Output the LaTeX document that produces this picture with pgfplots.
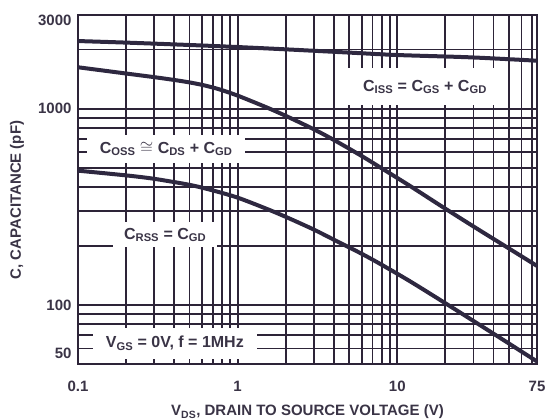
\documentclass[border=0pt]{standalone}
\usepackage{fontspec}
\setmainfont{Liberation Sans}
\usepackage{pgfplots}
\pgfplotsset{compat=1.18}
\definecolor{gridc}{HTML}{2D2438}
\definecolor{curvec}{HTML}{2E2840}
\definecolor{textc}{HTML}{3A3446}
\newcommand{\lblfont}{\fontsize{16bp}{19bp}\selectfont\bfseries}
\newcommand{\tkfont}{\fontsize{15bp}{18bp}\selectfont\bfseries}
\begin{document}
\begin{tikzpicture}
\begin{axis}[
  at={(0,0)}, anchor=south west,
  scale only axis, width=459bp, height=349bp,
  xmode=log, ymode=log,
  xmin=0.1, xmax=75, ymin=50, ymax=3000,
  xtick={0.1,1,10,75}, xticklabels={0.1,1,10,75},
  ytick={100,1000}, yticklabels={100,1000},
  minor xtick={0.2,0.3,0.4,0.5,0.6,0.7,0.8,0.9,2,3,4,5,6,7,8,9,20,30,40,50,60,70},
  minor ytick={60,70,80,90,200,300,400,500,600,700,800,900,2000},
  grid=both,
  major grid style={gridc, line width=1.8bp},
  minor grid style={gridc, line width=1.8bp},
  axis line style={gridc, line width=2bp},
  major tick length=0pt, minor tick length=0pt,
  /pgf/number format/assume math mode=true,
  tick label style={font=\tkfont, text=textc, inner sep=0pt},
  xticklabel style={anchor=north, yshift=-16.5bp},
  yticklabel style={anchor=east, xshift=-6.3bp},
  xlabel={V\textsubscript{DS}, DRAIN TO SOURCE VOLTAGE (V)},
  ylabel={C, CAPACITANCE (pF)},
  every axis x label/.style={at={(rel axis cs:0.5,-0.1482)}, anchor=base, font=\tkfont, text=textc},
  every axis y label/.style={at={(rel axis cs:-0.1242,0.47)}, rotate=90, anchor=base, font=\tkfont, text=textc},
]
% C_ISS
\addplot[curvec, line width=4bp, smooth] coordinates {
  (0.1,2210) (0.2,2170) (0.5,2110) (1,2060) (2,2005) (5,1930) (10,1876) (28.5,1826) (75,1755)
};
% C_OSS
\addplot[curvec, line width=4bp, smooth] coordinates {
  (0.1,1625) (0.2,1510) (0.3,1447) (0.4,1400) (0.5,1360) (0.6,1321) (0.7,1281) (0.8,1241)
  (1,1165) (1.5,1019) (2,919) (3,785) (4,693) (6,573) (8,496) (12,404) (18.5,322)
  (30,251) (50,194) (75,158)
};
% C_RSS
\addplot[curvec, line width=4bp, smooth] coordinates {
  (0.1,483) (0.2,457) (0.3,439) (0.5,409) (0.7,383) (1,352) (1.5,310) (2,281) (3,242)
  (4,215) (6,182) (8,160) (12,132) (20,102) (40,71.4) (75,51.5)
};
\node[fill=white, minimum width=156bp, minimum height=37bp, inner sep=0pt, text=textc, font=\lblfont]
  at (rel axis cs:0.756,0.794) {C\textsubscript{ISS} = C\textsubscript{GS} + C\textsubscript{GD}};
\node[fill=white, minimum width=158bp, minimum height=28bp, inner sep=0pt, text=textc, font=\lblfont]
  at (rel axis cs:0.192,0.616) {C\textsubscript{OSS}\;$\cong$ C\textsubscript{DS} + C\textsubscript{GD}};
\node[fill=white, minimum width=104bp, minimum height=25bp, inner sep=0pt, text=textc, font=\lblfont]
  at (rel axis cs:0.190,0.370) {C\textsubscript{RSS} = C\textsubscript{GD}};
\node[fill=white, minimum width=164bp, minimum height=31bp, inner sep=0pt, text=textc, font=\lblfont]
  at (rel axis cs:0.211,0.060) {V\textsubscript{GS} = 0V, f = 1MHz};
\end{axis}
\node[anchor=east, inner sep=0pt, font=\tkfont, text=textc] at (-6.3bp,11bp) {50};
\node[anchor=east, inner sep=0pt, font=\tkfont, text=textc] at (-6.3bp,343.5bp) {3000};
\pgfresetboundingbox
\path (-78bp,-55bp) rectangle (469bp,364bp);
\end{tikzpicture}
\end{document}
